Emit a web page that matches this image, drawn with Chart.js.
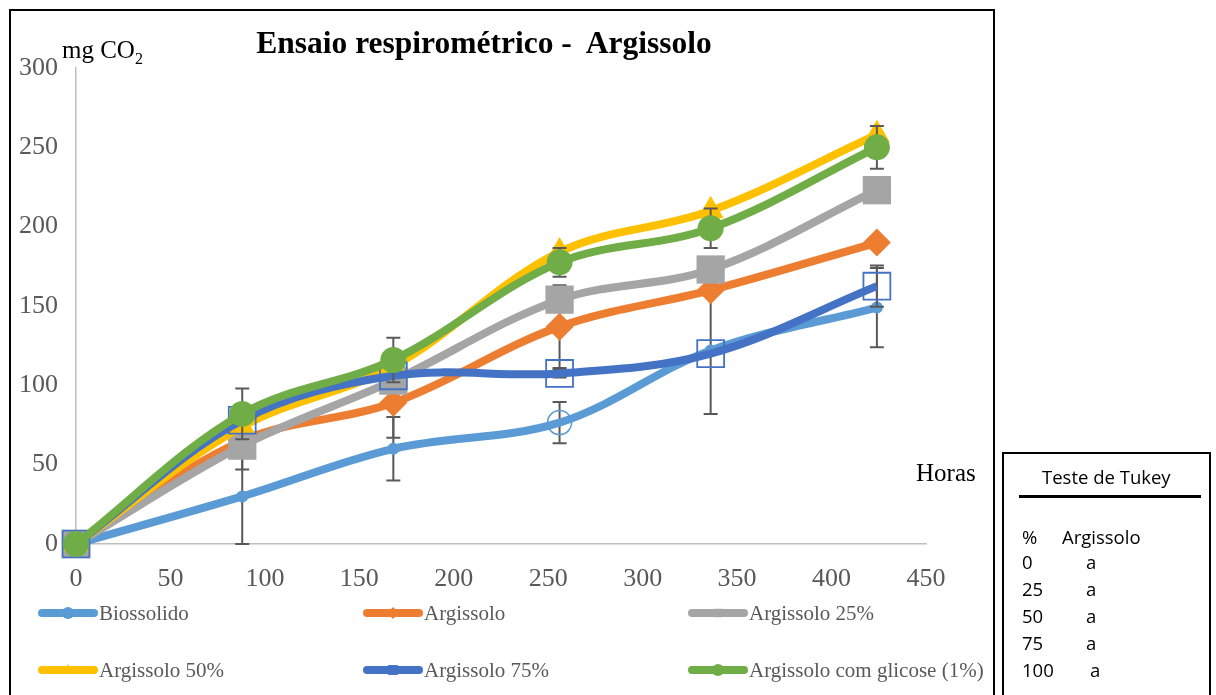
<!DOCTYPE html>
<html>
<head>
<meta charset="utf-8">
<script src="https://cdn.jsdelivr.net/npm/chart.js@4.4.1/dist/chart.umd.min.js"></script>
<style>
    html, body { margin: 0; padding: 0; background: #fff; }
    #wrap { position: relative; width: 1216px; height: 695px; overflow: hidden; }
    #chart { position: absolute; left: 0; top: 0; }
    .frame { position: absolute; border: 2px solid #000; box-sizing: border-box; pointer-events: none; }
    .txt { position: absolute; font-family: 'Liberation Serif', serif; color: #000; white-space: pre; }
    #tukey { font-family: 'Open Sans', 'Liberation Sans', sans-serif; font-size: 18.5px; color: #000; }
    #tukey div { position: absolute; white-space: pre; }
</style>
</head>
<body>
<div id="wrap">
    <canvas id="chart" width="1216" height="695"></canvas>
    <div class="frame" style="left:9px; top:9px; width:986px; height:700px;"></div>
    <div class="txt" style="left:184px; width:600px; text-align:center; top:25px; font-size:31.5px; font-weight:bold;">Ensaio respirométrico -  Argissolo</div>
    <div class="txt" style="left:62px; top:36px; font-size:25px;">mg CO<sub style="font-size:16px;">2</sub></div>
    <div class="txt" style="left:916px; top:459px; font-size:25px;">Horas</div>
    <div class="frame" id="tukey" style="left:1002px; top:452px; width:209px; height:260px;">
        <div style="left:38px; top:10px;">Teste de Tukey</div>
        <div style="left:15px; top:41px; width:182px; height:3px; background:#000;"></div>
        <div style="left:18px; top:70px;">%</div>
        <div style="left:58px; top:70px;">Argissolo</div>
    </div>
</div>
<script>
// Hours of incubation
const hours = [0, 88, 168, 256, 336, 424];

// Accumulated CO2 (mg) per treatment
const biossolido = [0, 30, 60, 76.5, 122, 149];
const argissolo = [0, 65, 89, 137, 160, 190];
const argissolo25 = [0, 62, 103, 154, 173, 223];
const argissolo50 = [0, 74, 112, 184, 210, 258];
const argissolo75 = [0, 78, 106, 107.5, 120, 162.5];
const argissoloGlicose = [0, 82, 116, 177.5, 199, 250];

// Error bar half-widths (mg CO2)
const errBiossolido = [0, 30, 20, 13, 40, 25];
const errArgissolo = [0, 0, 22, 26, 0, 0];
const errArgissolo25 = [0, 15, 0, 0, 0, 0];
const errArgissolo50 = [0, 0, 0, 0, 0, 0];
const errArgissolo75 = [0, 0, 0, 2.5, 0, 13];
const errGlicose = [0, 16, 14, 9, 12.5, 13.5];

const seriesLabels = ['Biossolido', 'Argissolo', 'Argissolo 25%', 'Argissolo 50%', 'Argissolo 75%', 'Argissolo com glicose (1%)'];

// Tukey table
const tukeyPct = ['0', '25', '50', '75', '100'];
const tukeyGroup = ['a', 'a', 'a', 'a', 'a'];

const tukeyBox = document.getElementById('tukey');
tukeyPct.forEach((p, i) => {
    const a = document.createElement('div');
    a.textContent = p;
    a.style.left = '18px';
    a.style.top = (95 + i * 27) + 'px';
    tukeyBox.appendChild(a);
    const b = document.createElement('div');
    b.textContent = tukeyGroup[i];
    b.style.left = (p === '100' ? 86 : 82) + 'px';
    b.style.top = (95 + i * 27) + 'px';
    tukeyBox.appendChild(b);
});

const toXY = (vals) => vals.map((v, i) => ({ x: hours[i], y: v }));

const BLUE_L = '#5B9BD5', ORANGE = '#ED7D31', GRAY = '#A5A5A5', YELLOW = '#FFC000', BLUE_D = '#4472C4', GREEN = '#70AD47';

const datasets = [
    {
        label: seriesLabels[0], data: toXY(biossolido), errors: errBiossolido,
        borderColor: BLUE_L, pointStyle: 'circle',
        pointRadius: [6, 6, 6, 12, 6, 6],
        pointBackgroundColor: [BLUE_L, BLUE_L, BLUE_L, 'rgba(0,0,0,0)', BLUE_L, BLUE_L],
        pointBorderColor: BLUE_L, pointBorderWidth: [0, 0, 0, 1.5, 0, 0]
    },
    {
        label: seriesLabels[1], data: toXY(argissolo), errors: errArgissolo,
        borderColor: ORANGE, pointStyle: 'rectRot', pointRadius: 14,
        pointBackgroundColor: ORANGE, pointBorderWidth: 0
    },
    {
        label: seriesLabels[2], data: toXY(argissolo25), errors: errArgissolo25,
        borderColor: GRAY, pointStyle: 'rect', pointRadius: 20,
        pointBackgroundColor: GRAY, pointBorderWidth: 0
    },
    {
        label: seriesLabels[3], data: toXY(argissolo50), errors: errArgissolo50,
        borderColor: YELLOW, pointStyle: 'triangle', pointRadius: 15,
        pointBackgroundColor: YELLOW, pointBorderWidth: 0
    },
    {
        label: seriesLabels[4], data: toXY(argissolo75), errors: errArgissolo75,
        borderColor: BLUE_D, pointStyle: 'rect', pointRadius: 19,
        pointBackgroundColor: 'rgba(0,0,0,0)', pointBorderColor: BLUE_D, pointBorderWidth: 1.8
    },
    {
        label: seriesLabels[5], data: toXY(argissoloGlicose), errors: errGlicose,
        borderColor: GREEN, pointStyle: 'circle', pointRadius: 13,
        pointBackgroundColor: GREEN, pointBorderWidth: 0
    }
].map((d, i) => Object.assign({
    borderWidth: 8,
    tension: 0.35,
    fill: false,
    clip: false,
    order: 5 - i,
    pointHoverRadius: d.pointRadius
}, d));

// error bars drawn just before each series, so its own markers sit on top
const errorBars = {
    id: 'errorBars',
    beforeDatasetDraw(chart, args) {
        const ds = chart.data.datasets[args.index];
        if (!ds.errors) return;
        const ctx = chart.ctx;
        const xs = chart.scales.x, ys = chart.scales.y;
        ctx.save();
        ctx.strokeStyle = '#595959';
        ctx.lineWidth = 2;
        ds.data.forEach((p, i) => {
            const e = ds.errors[i];
            if (!e) return;
            const px = xs.getPixelForValue(p.x);
            const top = ys.getPixelForValue(p.y + e);
            const bot = ys.getPixelForValue(p.y - e);
            ctx.beginPath();
            ctx.moveTo(px, top); ctx.lineTo(px, bot);
            ctx.moveTo(px - 7, top); ctx.lineTo(px + 7, top);
            ctx.moveTo(px - 7, bot); ctx.lineTo(px + 7, bot);
            ctx.stroke();
        });
        ctx.restore();
    }
};

// legend in three columns, two rows
const legendCols = [38, 363, 688];
const legendRows = [613, 670];
const bottomLegend = {
    id: 'bottomLegend',
    afterDraw(chart) {
        const ctx = chart.ctx;
        ctx.save();
        chart.data.datasets.forEach((ds, i) => {
            const lx = legendCols[i % 3];
            const ly = legendRows[Math.floor(i / 3)];
            ctx.strokeStyle = ds.borderColor;
            ctx.lineWidth = 8;
            ctx.lineCap = 'round';
            ctx.beginPath();
            ctx.moveTo(lx + 4, ly);
            ctx.lineTo(lx + 56, ly);
            ctx.stroke();
            const bg = Array.isArray(ds.pointBackgroundColor) ? ds.pointBackgroundColor[0] : ds.pointBackgroundColor;
            ctx.fillStyle = bg;
            ctx.strokeStyle = ds.borderColor;
            ctx.lineWidth = 1.2;
            if (Chart.helpers && Chart.helpers.drawPoint) {
                Chart.helpers.drawPoint(ctx, {
                    pointStyle: ds.pointStyle, radius: 6, rotation: 0,
                    borderWidth: i === 4 ? 1.2 : 0
                }, lx + 30, ly);
                if (i === 4) {
                    ctx.stroke();
                }
            }
            ctx.fillStyle = '#595959';
            ctx.font = '21px "Liberation Serif", serif';
            ctx.textBaseline = 'middle';
            ctx.fillText(ds.label, lx + 61, ly + 1);
        });
        ctx.restore();
    }
};

const tickFont = { family: "'Liberation Serif', serif", size: 26 };

new Chart(document.getElementById('chart'), {
    type: 'line',
    data: { datasets },
    plugins: [errorBars, bottomLegend],
    options: {
        responsive: false,
        animation: false,
        events: [],
        layout: { padding: { left: 0, top: 68, right: 290, bottom: 101 } },
        plugins: {
            legend: { display: false },
            title: { display: false },
            tooltip: { enabled: false }
        },
        scales: {
            x: {
                type: 'linear',
                min: 0, max: 450,
                ticks: { stepSize: 50, color: '#595959', font: tickFont, padding: 20, maxRotation: 0 },
                grid: { display: false, drawTicks: false },
                border: { display: true, color: '#BFBFBF', width: 1.5 },
                afterFit(scale) { scale.height = 50; }
            },
            y: {
                type: 'linear',
                min: 0, max: 300,
                ticks: { stepSize: 50, color: '#595959', font: tickFont, padding: 18 },
                grid: { display: false, drawTicks: false },
                border: { display: true, color: '#BFBFBF', width: 1.5 },
                afterFit(scale) { scale.width = 76; }
            }
        }
    }
});
</script>
</body>
</html>
